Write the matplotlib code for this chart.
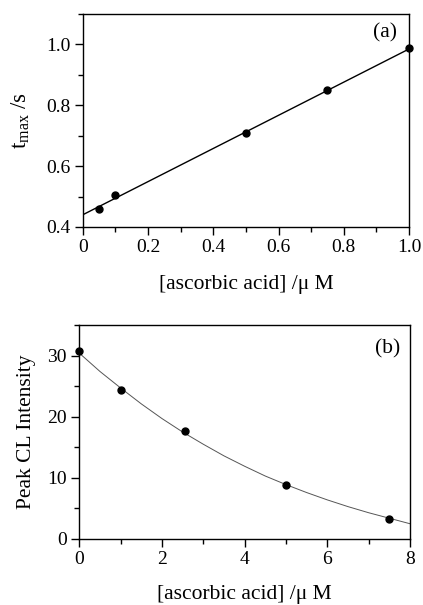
import matplotlib
matplotlib.use("Agg")
import matplotlib.pyplot as plt
from matplotlib.ticker import MultipleLocator

plt.rcParams['font.family'] = ['Liberation Serif', 'DejaVu Serif']
plt.rcParams['mathtext.fontset'] = 'custom'
plt.rcParams['mathtext.rm'] = 'Liberation Serif'
plt.rcParams['mathtext.it'] = 'Liberation Serif:italic'

# Panel (a) data
a_x = [0.05, 0.1, 0.5, 0.75, 1.0]
a_y = [0.46, 0.505, 0.708, 0.85, 0.987]
a_fit_x = [0.0, 1.0]
a_fit_y = [0.44, 0.985]
a_xticks = [0, 0.2, 0.4, 0.6, 0.8, 1.0]
a_xticklabels = ['0', '0.2', '0.4', '0.6', '0.8', '1.0']
a_yticks = [0.4, 0.6, 0.8, 1.0]
a_yticklabels = ['0.4', '0.6', '0.8', '1.0']

# Panel (b) data
b_x = [0.0, 1.0, 2.55, 5.0, 7.5]
b_y = [30.7, 24.4, 17.6, 8.8, 3.3]
b_curve_x = [0, 0.5, 1, 1.5, 2, 2.5, 3, 3.5, 4, 4.5, 5, 5.5, 6, 6.5, 7, 7.5, 8]
b_curve_y = [30.4, 27.4, 24.7, 22.1, 19.7, 17.5, 15.5, 13.6, 11.9, 10.3, 8.9, 7.6, 6.4, 5.3, 4.3, 3.4, 2.5]

xlabel = "[ascorbic acid] /\u03bc M"

fig = plt.figure(figsize=(4.23, 6.05), dpi=100)
ax1 = fig.add_axes([0.1955, 0.6248, 0.7715, 0.3521])
ax2 = fig.add_axes([0.1875, 0.1091, 0.7815, 0.3537])

TICK = 14
LAB = 15.5

def style(ax):
    ax.tick_params(which='both', direction='out', top=False, right=False,
                   labelsize=TICK, width=1, color='black', pad=3)
    ax.tick_params(which='major', length=6)
    ax.tick_params(which='minor', length=3.5)
    for s in ax.spines.values():
        s.set_linewidth(1)

ax1.plot(a_fit_x, a_fit_y, color='black', lw=1)
ax1.plot(a_x, a_y, 'o', color='black', ms=5, clip_on=False)
ax1.set_xlim(0, 1.0)
ax1.set_ylim(0.4, 1.1)
ax1.xaxis.set_minor_locator(MultipleLocator(0.1))
ax1.yaxis.set_minor_locator(MultipleLocator(0.1))
ax1.set_xticks(a_xticks, a_xticklabels)
ax1.set_yticks(a_yticks, a_yticklabels)
style(ax1)
ax1.set_xlabel(xlabel, fontsize=LAB, labelpad=13)
ax1.set_ylabel(r'$\mathrm{t}_{\mathrm{max}}$ /s', fontsize=16.5, labelpad=10)
ax1.text(0.926, 0.91, '(a)', transform=ax1.transAxes, fontsize=LAB, ha='center', va='center')

ax2.plot(b_curve_x, b_curve_y, color='#555555', lw=0.7)
ax2.plot(b_x, b_y, 'o', color='black', ms=5, clip_on=False)
ax2.set_xlim(0, 8)
ax2.set_ylim(0, 35)
ax2.xaxis.set_major_locator(MultipleLocator(2))
ax2.xaxis.set_minor_locator(MultipleLocator(1))
ax2.yaxis.set_major_locator(MultipleLocator(10))
ax2.yaxis.set_minor_locator(MultipleLocator(5))
style(ax2)
ax2.set_xlabel(xlabel, fontsize=LAB, labelpad=12)
ax2.set_ylabel('Peak CL Intensity', fontsize=LAB, labelpad=8)
ax2.text(0.934, 0.89, '(b)', transform=ax2.transAxes, fontsize=LAB, ha='center', va='center')

fig.savefig('out.png', dpi=100)
